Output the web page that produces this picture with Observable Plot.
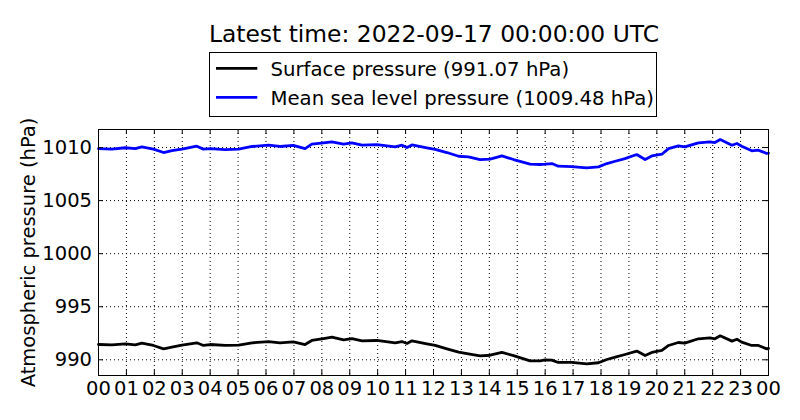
<!DOCTYPE html>
<html><head><meta charset="utf-8">
<script src="https://cdn.jsdelivr.net/npm/d3@7"></script>
<script src="https://cdn.jsdelivr.net/npm/@observablehq/plot@0.6"></script>
<style>
body{margin:0;background:#fff;}
#wrap{position:relative;width:800px;height:420px;}
#wrap svg{position:absolute;left:0;top:0;}
</style></head><body><div id="wrap"></div>
<script>
const titleText = "Latest time: 2022-09-17 00:00:00 UTC";
const seriesNames = ["Surface pressure (991.07 hPa)", "Mean sea level pressure (1009.48 hPa)"];
const seriesColors = ["#000000", "#0000ff"];
const yLabel = "Atmospheric pressure (hPa)";
const hours = [0,0.48,0.96,1.32,1.55,1.97,2.33,2.63,2.99,3.52,3.76,4.0,4.54,5.02,5.5,6.09,6.5,6.98,7.4,7.64,8.06,8.36,8.78,9.08,9.44,9.97,10.63,10.87,11.05,11.23,11.76,12.06,12.48,12.9,13.25,13.67,14.03,14.45,14.87,15.46,15.82,16.0,16.24,16.47,16.95,17.49,17.91,18.21,18.51,18.86,19.28,19.58,19.82,20.18,20.42,20.77,21.0,21.49,21.9,22.08,22.27,22.69,22.87,23.04,23.4,23.64,23.94,24];
const surface = [991.44,991.41,991.5,991.41,991.57,991.35,991.03,991.19,991.38,991.6,
  991.35,991.44,991.35,991.38,991.6,991.72,991.6,991.69,991.44,991.82,
  992.0,992.13,991.88,992.0,991.79,991.82,991.6,991.72,991.54,991.79,
  991.5,991.35,991.03,990.72,990.56,990.37,990.43,990.69,990.4,989.9,
  989.9,990.0,989.97,989.75,989.75,989.62,989.72,990.03,990.25,990.5,
  990.82,990.4,990.69,990.88,991.35,991.63,991.57,991.98,992.07,991.98,
  992.26,991.76,991.94,991.66,991.35,991.35,991.03,991.07];
const msl = [1009.9,1009.85,1009.98,1009.9,1010.07,1009.85,1009.53,1009.7,1009.85,1010.13,
  1009.85,1009.9,1009.8,1009.85,1010.1,1010.22,1010.1,1010.2,1009.9,1010.32,
  1010.45,1010.53,1010.32,1010.44,1010.22,1010.28,1010.06,1010.22,1010.0,1010.25,
  1009.97,1009.82,1009.53,1009.18,1009.12,1008.87,1008.9,1009.21,1008.87,1008.43,
  1008.4,1008.43,1008.49,1008.24,1008.21,1008.08,1008.18,1008.49,1008.71,1008.96,
  1009.34,1008.87,1009.21,1009.37,1009.9,1010.16,1010.06,1010.44,1010.53,1010.47,
  1010.75,1010.22,1010.38,1010.13,1009.69,1009.75,1009.44,1009.48];
const xTicks = d3.range(0, 25);
const xTickLabels = xTicks.map(h => String(h % 24).padStart(2, "0"));
const yTicks = [990, 995, 1000, 1005, 1010];
const yDomain = [988.52, 1011.7];

const data = [];
hours.forEach((h, i) => {
  data.push({hour: h, value: surface[i], series: seriesNames[0]});
  data.push({hour: h, value: msl[i], series: seriesNames[1]});
});

const W = 800, H = 420, mT = 129, mB = 45, mL = 98, mR = 32;
const pw = W - mL - mR, ph = H - mT - mB, tk = 5;
const font = "DejaVu Sans";
const fs = 19.5;

const chart = Plot.plot({
  width: W, height: H, marginTop: mT, marginBottom: mB, marginLeft: mL, marginRight: mR,
  style: {fontFamily: font, fontSize: fs + "px", color: "black", background: "white"},
  x: {domain: [0, 24]},
  y: {domain: yDomain},
  color: {domain: seriesNames, range: seriesColors},
  marks: [
    Plot.ruleX(xTicks.slice(1, -1), {x: d => d, stroke: "black", strokeWidth: 1, strokeDasharray: "1,3"}),
    Plot.ruleY(yTicks, {y: d => d, stroke: "black", strokeWidth: 1, strokeDasharray: "1,3"}),
    Plot.line(data, {x: "hour", y: "value", z: "series", stroke: "series", strokeWidth: 2.8, strokeLinejoin: "round"}),
    Plot.ruleX(xTicks, {x: d => d, insetTop: ph - tk, stroke: "black"}),
    Plot.ruleX(xTicks, {x: d => d, insetBottom: ph - tk, stroke: "black"}),
    Plot.ruleY(yTicks, {y: d => d, insetRight: pw - tk, stroke: "black"}),
    Plot.ruleY(yTicks, {y: d => d, insetLeft: pw - tk, stroke: "black"}),
    Plot.frame({stroke: "black", strokeWidth: 1}),
    Plot.axisX({ticks: xTicks, tickFormat: d => xTickLabels[xTicks.indexOf(d)], tickSize: 0, tickPadding: 5.5, label: null, fill: "black"}),
    Plot.axisY({ticks: yTicks, tickFormat: d => String(d), tickSize: 0, tickPadding: 6.5, label: null, fill: "black"}),
    Plot.text([yLabel], {text: d => d, frameAnchor: "left", rotate: -90, dx: -69.3, textAnchor: "middle", lineAnchor: "middle", fontSize: fs, fill: "black"})
  ]
});
const wrap = document.getElementById("wrap");
wrap.appendChild(chart);

// title and legend above the plot area
const ov = d3.select(wrap).append("svg").attr("width", W).attr("height", 125)
  .style("font-family", font).style("pointer-events", "none");
ov.append("text").attr("x", mL + pw / 2 + 1).attr("y", 42.3).attr("text-anchor", "middle")
  .attr("font-size", 23.4).attr("fill", "black").text(titleText);
ov.append("rect").attr("x", 209.5).attr("y", 52.5).attr("width", 447).attr("height", 64)
  .attr("fill", "white").attr("stroke", "black").attr("stroke-width", 1);
seriesNames.forEach((name, i) => {
  const yy = 68.3 + i * 29;
  ov.append("line").attr("x1", 216).attr("x2", 257.3).attr("y1", yy).attr("y2", yy)
    .attr("stroke", seriesColors[i]).attr("stroke-width", 2.8);
  ov.append("text").attr("x", 270.5).attr("y", yy + 7.2).attr("font-size", 19.7)
    .attr("fill", "black").text(name);
});
</script></body></html>
